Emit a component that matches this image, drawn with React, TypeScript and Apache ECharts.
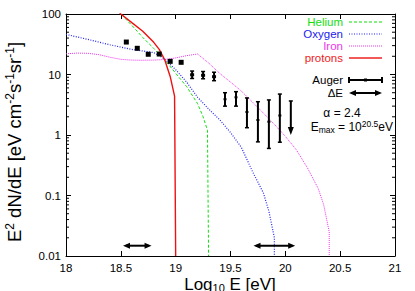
import React, { useEffect, useRef } from "react";
import * as echarts from "echarts";

const FONT = "'Liberation Sans', Arial, Helvetica, sans-serif";

// Model curves (log10 E, E^2 dN/dE)
const heliumX = [18.45, 18.5, 18.6, 18.7, 18.8, 18.9, 19.0, 19.1, 19.2, 19.25, 19.29, 19.3];
const heliumY = [130, 100, 65, 41, 27, 17.5, 10.5, 6.3, 3.3, 2.0, 1.2, 0.01];

const oxygenX = [18.0, 18.2, 18.4, 18.6, 18.8, 18.9, 19.0, 19.1, 19.2, 19.3, 19.4, 19.5, 19.6, 19.7, 19.8, 19.85, 19.88, 19.9, 19.9];
const oxygenY = [46, 38, 31, 26, 23, 18, 12, 7.5, 4.2, 2.7, 1.8, 1.1, 0.62, 0.25, 0.11, 0.055, 0.03, 0.02, 0.01];

const ironX = [18.0, 18.1, 18.2, 18.3, 18.4, 18.5, 18.6, 18.7, 18.8, 18.9, 19.0, 19.1, 19.2, 19.3, 19.4, 19.5, 19.6, 19.7, 19.8, 19.9, 20.0, 20.1, 20.2, 20.3, 20.35, 20.4, 20.4];
const ironY = [22, 22.6, 22.4, 21.3, 19.3, 17.8, 17.3, 17.2, 17.3, 17.7, 18.8, 20.5, 21.8, 15.5, 10.5, 7.5, 5.3, 3.5, 2.3, 1.5, 0.95, 0.57, 0.29, 0.13, 0.07, 0.025, 0.01];

const protonX = [18.45, 18.5, 18.6, 18.7, 18.8, 18.85, 18.9, 18.95, 18.99, 19.0];
const protonY = [125, 100, 72, 52, 34, 26, 17.5, 9.3, 4.4, 0.01];

// Auger data
const augerE = [18.55, 18.65, 18.75, 18.85, 18.95, 19.05, 19.15, 19.25, 19.35, 19.45, 19.55, 19.65, 19.75, 19.85, 19.95];
const augerFlux = [34.4, 27.1, 21.6, 21.8, 16.5, 15.9, 9.9, 9.7, 9.2, 3.9, 4.2, 2.4, 1.77, 1.66, 2.1];
const augerLow = [33.5, 26.3, 20.9, 21.1, 15.9, 15.3, 8.6, 8.5, 7.9, 3.0, 3.0, 1.32, 0.77, 0.6, 0.76];
const augerHigh = [35.3, 27.9, 22.3, 22.5, 17.1, 16.5, 11.4, 11.2, 10.9, 5.0, 5.2, 4.1, 3.55, 3.8, 4.75];

// Upper limit
const limitE = [20.05];
const limitTop = [3.65];
const limitBottom = [1.0];

// Energy resolution arrows
const deltaECenter = [18.65, 19.9];
const deltaEHalf = [0.13, 0.19];
const deltaEFlux = [0.0148, 0.0148];

// Axis ticks
const yMinorMantissas = [2, 3, 4, 5, 6, 7, 8, 9];
const yDecades = [0.01, 0.1, 1, 10];

const zip = (xs: number[], ys: number[]) => xs.map((x, i) => [x, ys[i]]);

export default function App() {
  const ref = useRef<HTMLDivElement>(null);
  useEffect(() => {
    if (!ref.current) return;
    const chart = echarts.init(ref.current, undefined, { renderer: "svg" });

    const minorTicks: number[][] = [];
    yDecades.forEach((d) => yMinorMantissas.forEach((m) => minorTicks.push([18, d * m])));

    const axisLine = { show: true, lineStyle: { color: "#000", width: 1 } };
    const tickStyle = { show: true, inside: true, length: 5, lineStyle: { color: "#000", width: 1 } };
    const labelStyle = { color: "#000", fontSize: 11.5, fontFamily: FONT };

    const line = (name: string, xs: number[], ys: number[], color: string, type: any, width: number) => ({
      name,
      type: "line",
      data: zip(xs, ys),
      showSymbol: false,
      symbol: "none",
      clip: true,
      lineStyle: { color, width, type },
      z: 2,
    });

    const legendRows = [
      { t: "Helium", c: "#11dd11", dash: [3, 2], w: 1, y: 22 },
      { t: "Oxygen", c: "#2222ee", dash: [1, 1.5], w: 1.2, y: 34 },
      { t: "Iron", c: "#ee33ee", dash: [1, 1], w: 1, y: 46 },
      { t: "protons", c: "#ee2222", dash: null, w: 1.5, y: 58 },
    ];

    const graphic: any[] = [];
    legendRows.forEach((r) => {
      graphic.push({
        type: "text",
        x: 343,
        y: r.y,
        style: { text: r.t, fill: r.c, font: `11.5px ${FONT}`, align: "right", verticalAlign: "middle" },
      });
      graphic.push({
        type: "line",
        shape: { x1: 349, y1: r.y, x2: 382, y2: r.y },
        style: { stroke: r.c, lineWidth: r.w, lineDash: r.dash || undefined },
      });
    });
    // Auger legend
    graphic.push({
      type: "text",
      x: 343,
      y: 80,
      style: { text: "Auger", fill: "#000", font: `11.5px ${FONT}`, align: "right", verticalAlign: "middle" },
    });
    graphic.push({ type: "line", shape: { x1: 349, y1: 80, x2: 382, y2: 80 }, style: { stroke: "#000", lineWidth: 2 } });
    graphic.push({ type: "line", shape: { x1: 349, y1: 77, x2: 349, y2: 83 }, style: { stroke: "#000", lineWidth: 2 } });
    graphic.push({ type: "line", shape: { x1: 382, y1: 77, x2: 382, y2: 83 }, style: { stroke: "#000", lineWidth: 2 } });
    graphic.push({ type: "rect", shape: { x: 364, y: 78.5, width: 3, height: 3 }, style: { fill: "#000" } });
    // Delta E legend
    graphic.push({
      type: "text",
      x: 343,
      y: 93,
      style: { text: "ΔE", fill: "#000", font: `11.5px ${FONT}`, align: "right", verticalAlign: "middle" },
    });
    graphic.push({ type: "line", shape: { x1: 352, y1: 93, x2: 379, y2: 93 }, style: { stroke: "#000", lineWidth: 2 } });
    graphic.push({ type: "polygon", shape: { points: [[349, 93], [356, 90], [356, 96]] }, style: { fill: "#000" } });
    graphic.push({ type: "polygon", shape: { points: [[382, 93], [375, 90], [375, 96]] }, style: { fill: "#000" } });
    // alpha and Emax
    graphic.push({
      type: "text",
      x: 342,
      y: 113,
      style: { text: "α = 2.4", fill: "#000", font: `12px ${FONT}`, align: "center", verticalAlign: "middle" },
    });
    graphic.push({
      type: "text",
      x: 393,
      y: 127,
      style: {
        text: "{a|E}{b|max}{a| = 10}{c|20.5}{a|eV}",
        align: "right",
        verticalAlign: "middle",
        rich: {
          a: { fontSize: 12, fontFamily: FONT, fill: "#000", color: "#000" },
          b: { fontSize: 8.5, fontFamily: FONT, padding: [6, 0, 0, 0], fill: "#000", color: "#000" },
          c: { fontSize: 8.5, fontFamily: FONT, padding: [0, 0, 7, 0], fill: "#000", color: "#000" },
        },
      },
    });
    // Axis titles
    graphic.push({
      type: "text",
      x: 230,
      y: 284,
      style: {
        text: "{a|Log}{b|10}{a| E [eV]}",
        align: "center",
        verticalAlign: "middle",
        rich: {
          a: { fontSize: 17, fontFamily: FONT, fill: "#000", color: "#000" },
          b: { fontSize: 11, fontFamily: FONT, padding: [7, 0, 0, 0], fill: "#000", color: "#000" },
        },
      },
    });
    graphic.push({
      type: "text",
      x: 14.5,
      y: 142,
      rotation: Math.PI / 2,
      style: {
        text: "{a|E}{s|2}{a| dN/dE [eV cm}{s|-2}{a|s}{s|-1}{a|sr}{s|-1}{a|]}",
        align: "center",
        verticalAlign: "middle",
        rich: {
          a: { fontSize: 18.5, fontFamily: FONT, fill: "#000", color: "#000" },
          s: { fontSize: 12, fontFamily: FONT, padding: [0, 0, 9, 0], fill: "#000", color: "#000" },
        },
      },
    });

    const option: any = {
      animation: false,
      backgroundColor: "#fff",
      grid: { left: 66, right: 20, top: 14, bottom: 35, containLabel: false },
      xAxis: [
        {
          type: "value",
          min: 18,
          max: 21,
          interval: 0.5,
          position: "bottom",
          axisLine,
          axisTick: tickStyle,
          axisLabel: { ...labelStyle, margin: 6 },
          splitLine: { show: false },
        },
        {
          type: "value",
          min: 18,
          max: 21,
          interval: 0.5,
          position: "top",
          axisLine,
          axisTick: tickStyle,
          axisLabel: { show: false },
          splitLine: { show: false },
        },
      ],
      yAxis: [
        {
          type: "log",
          logBase: 10,
          min: 0.01,
          max: 100,
          position: "left",
          axisLine,
          axisTick: tickStyle,
          axisLabel: { ...labelStyle, margin: 5 },
          splitLine: { show: false },
        },
        {
          type: "log",
          logBase: 10,
          min: 0.01,
          max: 100,
          position: "right",
          axisLine,
          axisTick: tickStyle,
          axisLabel: { show: false },
          splitLine: { show: false },
        },
      ],
      graphic,
      series: [
        line("Helium", heliumX, heliumY, "#11dd11", [3, 2], 1),
        line("Oxygen", oxygenX, oxygenY, "#2222ee", [1, 1.5], 1.2),
        line("Iron", ironX, ironY, "#ee33ee", [1, 1], 1),
        line("protons", protonX, protonY, "#ee1111", "solid", 1.4),
        {
          name: "minorTicks",
          type: "custom",
          silent: true,
          data: minorTicks,
          encode: { x: 0, y: 1 },
          renderItem: (params: any, api: any) => {
            const p = api.coord([api.value(0), api.value(1)]);
            const cs = params.coordSys;
            const left = cs.x;
            const right = cs.x + cs.width;
            return {
              type: "group",
              children: [
                { type: "line", shape: { x1: left, y1: p[1], x2: left + 3, y2: p[1] }, style: { stroke: "#000", lineWidth: 1 } },
                { type: "line", shape: { x1: right - 3, y1: p[1], x2: right, y2: p[1] }, style: { stroke: "#000", lineWidth: 1 } },
              ],
            };
          },
          z: 3,
        },
        {
          name: "Auger",
          type: "custom",
          data: augerE.map((e, i) => [e, augerFlux[i], augerLow[i], augerHigh[i]]),
          encode: { x: 0, y: 1 },
          renderItem: (params: any, api: any) => {
            const x = api.value(0);
            const p = api.coord([x, api.value(1)]);
            const pl = api.coord([x, api.value(2)]);
            const ph = api.coord([x, api.value(3)]);
            const h = pl[1] - ph[1];
            const st = { stroke: "#000", lineWidth: 2 };
            if (h < 6) {
              return { type: "rect", shape: { x: p[0] - 2.5, y: p[1] - 2.5, width: 5, height: 5 }, style: { fill: "#000" } };
            }
            const ms = h < 12 ? 4 : 3;
            return {
              type: "group",
              children: [
                { type: "line", shape: { x1: p[0], y1: ph[1], x2: p[0], y2: pl[1] }, style: st },
                { type: "line", shape: { x1: p[0] - 2, y1: ph[1], x2: p[0] + 2, y2: ph[1] }, style: { stroke: "#000", lineWidth: 1.5 } },
                { type: "line", shape: { x1: p[0] - 2, y1: pl[1], x2: p[0] + 2, y2: pl[1] }, style: { stroke: "#000", lineWidth: 1.5 } },
                { type: "rect", shape: { x: p[0] - ms / 2, y: p[1] - ms / 2 + 0.5, width: ms, height: ms - 1 }, style: { fill: "#000" } },
              ],
            };
          },
          z: 5,
        },
        {
          name: "limit",
          type: "custom",
          data: limitE.map((e, i) => [e, limitTop[i], limitBottom[i]]),
          encode: { x: 0, y: 1 },
          renderItem: (params: any, api: any) => {
            const x = api.value(0);
            const pt = api.coord([x, api.value(1)]);
            const pb = api.coord([x, api.value(2)]);
            return {
              type: "group",
              children: [
                { type: "line", shape: { x1: pt[0], y1: pt[1], x2: pt[0], y2: pb[1] - 6 }, style: { stroke: "#000", lineWidth: 2 } },
                { type: "line", shape: { x1: pt[0] - 2, y1: pt[1], x2: pt[0] + 2, y2: pt[1] }, style: { stroke: "#000", lineWidth: 1.5 } },
                { type: "polygon", shape: { points: [[pb[0] - 3, pb[1] - 8], [pb[0] + 3, pb[1] - 8], [pb[0], pb[1]]] }, style: { fill: "#000" } },
              ],
            };
          },
          z: 5,
        },
        {
          name: "deltaE",
          type: "custom",
          data: deltaECenter.map((c, i) => [c, deltaEFlux[i], deltaEHalf[i]]),
          encode: { x: 0, y: 1 },
          renderItem: (params: any, api: any) => {
            const c = api.value(0);
            const f = api.value(1);
            const hw = api.value(2);
            const a = api.coord([c - hw, f]);
            const b = api.coord([c + hw, f]);
            return {
              type: "group",
              children: [
                { type: "line", shape: { x1: a[0] + 3, y1: a[1], x2: b[0] - 3, y2: b[1] }, style: { stroke: "#000", lineWidth: 2 } },
                { type: "polygon", shape: { points: [[a[0], a[1]], [a[0] + 7, a[1] - 3], [a[0] + 7, a[1] + 3]] }, style: { fill: "#000" } },
                { type: "polygon", shape: { points: [[b[0], b[1]], [b[0] - 7, b[1] - 3], [b[0] - 7, b[1] + 3]] }, style: { fill: "#000" } },
              ],
            };
          },
          z: 5,
        },
      ],
    };
    chart.setOption(option);
    return () => chart.dispose();
  }, []);
  return (
    <div
      ref={ref}
      style={{ position: "fixed", left: 0, top: 0, width: 415, height: 291, background: "#fff" }}
    />
  );
}
